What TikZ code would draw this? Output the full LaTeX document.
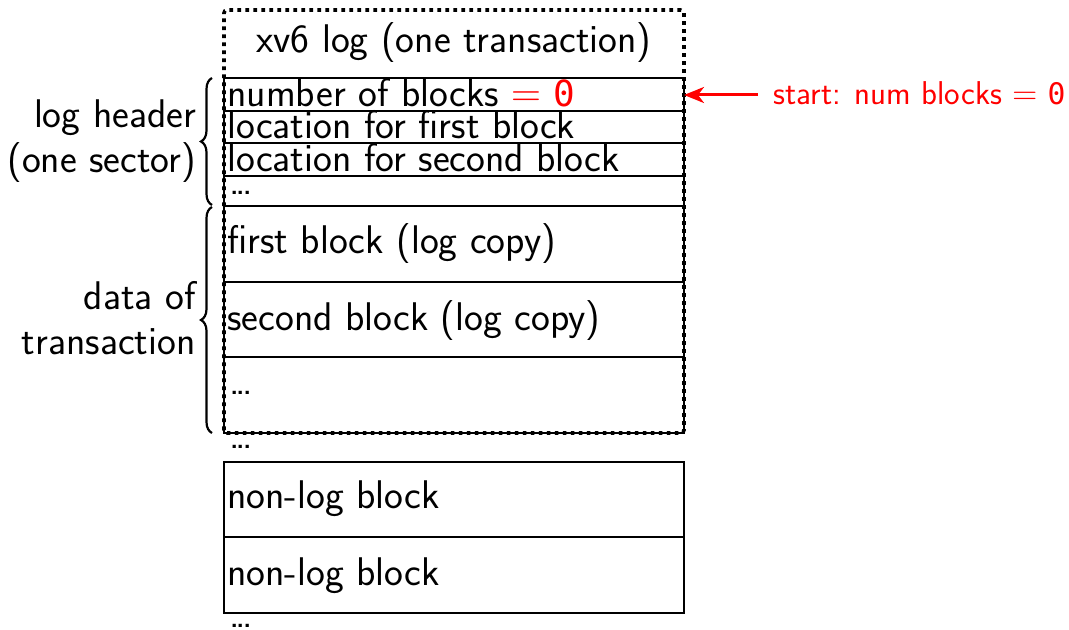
\documentclass[tikz,border=0pt]{standalone}
\usepackage{fontspec}
\setmonofont[Scale=0.9]{DejaVu Sans Mono}
\usetikzlibrary{decorations.pathreplacing,arrows.meta}

% compact ellipsis used in the block rows
\newcommand\tightdots{.\kern-2pt.\kern-2pt.}

\begin{document}
\begin{tikzpicture}[x=0.5pt,y=-0.5pt,
  font=\fontsize{20}{22.8}\selectfont\sffamily,
  cell/.style={draw, line width=0.6pt, minimum width=230pt, inner sep=0pt, outer sep=0pt},
  celltext/.style={anchor=base west, inner sep=0pt},
  logbox/.style={draw, line width=1.8pt, dash pattern=on 1.8pt off 2.2pt,
    rounded corners=1.5pt, minimum width=230pt, minimum height=211.5pt,
    inner sep=0pt, outer sep=0pt},
  sidebrace/.style={decorate, decoration={brace, amplitude=5.5pt}, line width=1.1pt},
  sidelabel/.style={anchor=east, align=right, inner sep=0pt},
  startarrow/.style={draw=red, line width=1.5pt,
    -{Stealth[length=10pt, width=8pt, inset=3pt]}},
]
\useasboundingbox (0,0) rectangle (1069,630);

% log header rows (one sector)
\node[cell, minimum height=16.5pt, anchor=north] (h1) at (454,78) {};
\node[cell, minimum height=16pt,   anchor=north] (h2) at (h1.south) {};
\node[cell, minimum height=16.5pt, anchor=north] (h3) at (h2.south) {};
\node[cell, minimum height=15pt,   anchor=north] (h4) at (h3.south) {};
% logged data blocks
\node[cell, minimum height=38pt,   anchor=north] (d1) at (h4.south) {};
\node[cell, minimum height=37.5pt, anchor=north] (d2) at (d1.south) {};
\node[cell, minimum height=38pt,   anchor=north] (d3) at (d2.south) {};
% ordinary disk blocks after the log
\node[cell, minimum height=37.5pt, anchor=north] (n1) at (454,462) {};
\node[cell, minimum height=38pt,   anchor=north] (n2) at (n1.south) {};

% dotted outline of the whole log area
\node[logbox] (log) at (454,221.5) {};

% row texts
\node[anchor=base, inner sep=0pt] (title) at (454,53) {xv6 log (one transaction)};
\node[celltext] (t1) at (227,107) {number of blocks \textcolor{red}{$=$ \texttt{0}}};
\node[celltext] (t2) at (227,139) {location for first block};
\node[celltext] (t3) at (227,171.5) {location for second block};
\node[celltext] (t4) at (229,194.5) {\tightdots};
\node[celltext] (t5) at (227,254) {first block (log copy)};
\node[celltext] (t6) at (227,330) {second block (log copy)};
\node[celltext] (t7) at (229,394.5) {\tightdots};
\node[celltext] (t8) at (229,448.5) {\tightdots};
\node[celltext] (t9) at (227,508) {non-log block};
\node[celltext] (t10) at (227,585) {non-log block};
\node[celltext] (t11) at (229,627) {\tightdots};

% braces and their labels
\draw[sidebrace] ([xshift=-6pt, yshift=0.5pt]h4.south west) -- ([xshift=-6pt]h1.north west);
\draw[sidebrace] ([xshift=-6pt]d3.south west) -- ([xshift=-6pt, yshift=-0.5pt]d1.north west);
\node[sidelabel] (lhdr) at (196.5,141) {log header\\(one sector)};
\node[sidelabel] (ldata) at (196,318) {data of\\transaction};

% initial state annotation
\node[anchor=base west, inner sep=0pt, text=red, font=\fontsize{16.5}{19}\selectfont\sffamily]
  (note) at (773,104.5) {start: num blocks $=$ \texttt{0}};
\coordinate (arrtail) at (758,95);
\draw[startarrow] (arrtail) -- (arrtail -| log.east);
\end{tikzpicture}
\end{document}
